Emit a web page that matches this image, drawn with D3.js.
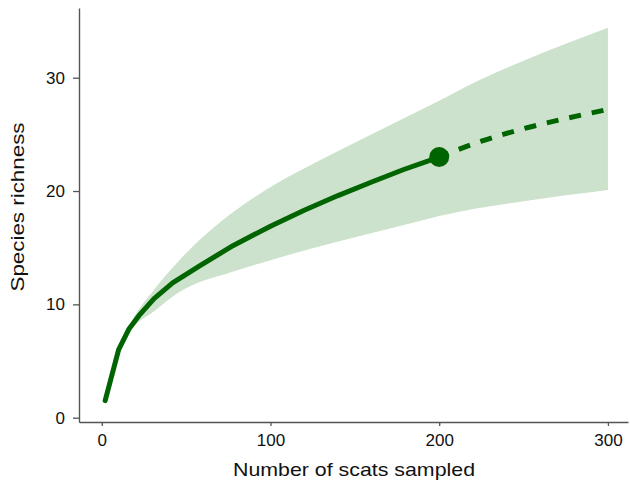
<!DOCTYPE html>
<html>
<head>
<meta charset="utf-8">
<script src="https://cdn.jsdelivr.net/npm/d3@7"></script>
<style>
  body { margin: 0; background: #fff; }
  svg { display: block; font-family: "Liberation Sans", Arial, sans-serif; }
</style>
</head>
<body>
<div id="chart"></div>
<script>
// Observed (rarefied) richness curve
const obsX = [2, 10, 16, 22, 31, 42, 58, 78, 100, 120, 140, 160, 179, 200];
const obsY = [1.5, 6.0, 7.8, 9.0, 10.5, 11.9, 13.4, 15.2, 16.9, 18.3, 19.6, 20.8, 21.9, 23.0];

// Extrapolated part
const extX = [200, 225, 250, 275, 300];
const extY = [23.0, 24.4, 25.5, 26.4, 27.2];

// Confidence band
const upperX = [2, 10, 18, 31, 46, 74, 104, 129, 157, 197, 224, 250, 300];
const upperY = [1.5, 6.1, 8.6, 11.3, 13.9, 17.7, 20.7, 22.7, 24.8, 27.75, 29.8, 31.5, 34.4];
const lowerX = [2, 10, 18, 31, 45, 78, 100, 139, 179, 200, 250, 300];
const lowerY = [1.5, 6.1, 7.9, 9.4, 11.0, 12.9, 13.9, 15.5, 17.0, 17.8, 19.1, 20.1];

const xTicks = [0, 100, 200, 300];
const yTicks = [0, 10, 20, 30];

const width = 630, height = 484;
const lineColor = "#006400";
const bandColor = "#cce2cc";
const axisColor = "#555";

const svg = d3.select("#chart").append("svg")
    .attr("width", width)
    .attr("height", height);

const x = d3.scaleLinear().domain([-13.5, 311.9]).range([79, 628]);
const y = d3.scaleLinear().domain([-0.38, 36.15]).range([422, 8]);

// band: area under the upper edge, then white out everything under the lower edge
const edge = d3.line().x(d => x(d[0])).y(d => y(d[1])).curve(d3.curveMonotoneX);
const upperPath = edge(upperX.map((v, i) => [v, upperY[i]]));
const lowerPath = edge(lowerX.map((v, i) => [v, lowerY[i]]));
const xEnd = x(upperX[upperX.length - 1]);
svg.append("path")
    .attr("fill", bandColor)
    .attr("d", upperPath + "L" + xEnd + "," + y(lowerY[lowerY.length - 1]) + "Z");
svg.append("path")
    .attr("fill", "#fff")
    .attr("d", lowerPath + "L" + xEnd + "," + y(-0.38) + "L" + x(lowerX[0]) + "," + y(-0.38) + "Z");

// axes
const yAxis = svg.append("g")
    .attr("transform", "translate(79,0)")
    .call(d3.axisLeft(y).tickValues(yTicks).tickSize(6).tickSizeOuter(0).tickPadding(8));
const xAxis = svg.append("g")
    .attr("transform", "translate(0,422)")
    .call(d3.axisBottom(x).tickValues(xTicks).tickSize(4).tickSizeOuter(0).tickPadding(8));

[xAxis, yAxis].forEach(g => {
    g.select(".domain").attr("stroke", axisColor).attr("stroke-width", 1.4);
    g.selectAll(".tick line").attr("stroke", axisColor).attr("stroke-width", 1.3);
    g.selectAll(".tick text")
        .attr("fill", "#111")
        .style("font-size", "17px")
        .style("font-family", "'Liberation Sans', Arial, sans-serif");
});

// dashed extrapolation
const ext = extX.map((v, i) => ({x: v, y: extY[i]}));
svg.append("path")
    .datum(ext)
    .attr("fill", "none")
    .attr("stroke", lineColor)
    .attr("stroke-width", 5)
    .attr("stroke-dasharray", "12,11")
    .attr("stroke-dashoffset", 2)
    .attr("d", d3.line().x(d => x(d.x)).y(d => y(d.y)).curve(d3.curveMonotoneX));

// observed curve
const obs = obsX.map((v, i) => ({x: v, y: obsY[i]}));
svg.append("path")
    .datum(obs)
    .attr("fill", "none")
    .attr("stroke", lineColor)
    .attr("stroke-width", 5)
    .attr("stroke-linejoin", "round")
    .attr("stroke-linecap", "round")
    .attr("d", d3.line().x(d => x(d.x)).y(d => y(d.y)));

// reference sample point
svg.append("circle")
    .attr("cx", x(obsX[obsX.length - 1]))
    .attr("cy", y(obsY[obsY.length - 1]))
    .attr("r", 10)
    .attr("fill", lineColor);

// axis titles
svg.append("text")
    .attr("x", 354)
    .attr("y", 476)
    .attr("text-anchor", "middle")
    .attr("fill", "#111")
    .style("font-size", "19px")
    .attr("textLength", 242)
    .attr("lengthAdjust", "spacingAndGlyphs")
    .text("Number of scats sampled");

svg.append("text")
    .attr("transform", "translate(24,207) rotate(-90)")
    .attr("text-anchor", "middle")
    .attr("fill", "#111")
    .style("font-size", "19px")
    .attr("textLength", 169)
    .attr("lengthAdjust", "spacingAndGlyphs")
    .text("Species richness");
</script>
</body>
</html>
